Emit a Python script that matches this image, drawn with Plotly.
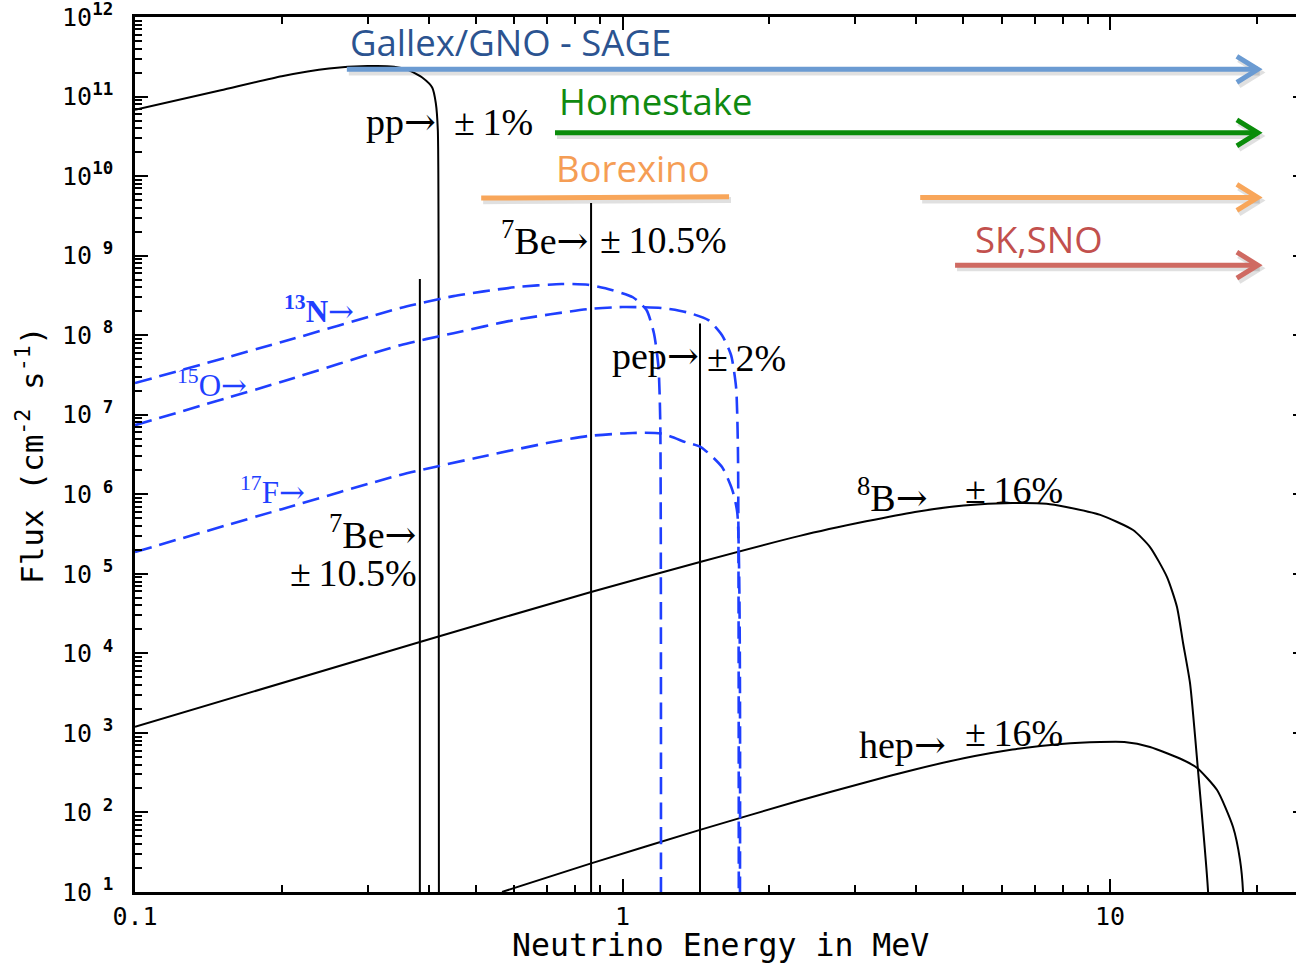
import numpy as np
import plotly.graph_objects as go

# ---------------- data ----------------
pp_E = [0.1, 0.15, 0.2, 0.25, 0.3, 0.34, 0.361, 0.39, 0.407, 0.414, 0.418, 0.4195, 0.4202]
pp_F = [6.8e10, 1.2e11, 1.8e11, 2.25e11, 2.42e11, 2.38e11, 2.2e11, 1.7e11, 1.3e11, 8.3e10, 3.8e10, 1e9, 1.0]

n13_E = [0.1, 0.2, 0.35, 0.45, 0.6, 0.75, 0.85, 0.95, 1.05, 1.12, 1.16, 1.185, 1.195, 1.199]
n13_F = [2.5e7, 8.2e7, 2.19e8, 3.1e8, 4.0e8, 4.4e8, 4.3e8, 3.7e8, 3.0e8, 2.07e8, 1.06e8, 4.0e7, 8.5e6, 1.0]

o15_E = [0.1, 0.2, 0.35, 0.45, 0.6, 0.85, 1.0, 1.2, 1.35, 1.5, 1.6, 1.67, 1.71, 1.725, 1.732]
o15_F = [7.4e6, 2.6e7, 7.5e7, 1.06e8, 1.55e8, 2.13e8, 2.26e8, 2.2e8, 1.95e8, 1.55e8, 1.0e8, 5.6e7, 2.2e7, 3.6e6, 1.0]

f17_E = [0.1, 0.2, 0.35, 0.5, 0.7, 0.85, 1.05, 1.2, 1.35, 1.45, 1.6, 1.68, 1.72, 1.74]
f17_F = [1.88e5, 6.5e5, 1.75e6, 2.86e6, 4.4e6, 5.4e6, 5.9e6, 5.8e6, 4.5e6, 3.9e6, 2.2e6, 1.13e6, 5.8e5, 1.0]

b8_E = [0.1, 0.384, 0.862, 1.442, 2.31, 3.16, 3.98, 5.01, 6.31, 7.41, 8.13, 9.55, 11.15, 12.08, 13.09,
        13.72, 14.12, 14.59, 15.15, 15.89, 16.0]
b8_F = [1.19e3, 1.39e4, 5.9e4, 1.41e5, 3.0e5, 4.57e5, 6.0e5, 7.2e5, 7.76e5, 7.6e5, 6.9e5, 5.5e5,
        3.55e5, 2.17e5, 9.1e4, 3.83e4, 1.35e4, 4.24e3, 342, 10, 1.0]

hep_E = [0.566, 0.862, 1.442, 2.31, 3.16, 3.98, 5.01, 6.31, 7.94, 9.55, 10.7, 12.08, 14.12, 15.09, 16.58,
         17.88, 18.48, 18.74, 18.8]
hep_F = [10, 22.9, 60.3, 141, 240, 347, 479, 617, 724, 767, 767, 665, 456, 362, 191, 65.6, 25.2, 10.3, 1.0]

# mono-energetic lines: 7Be (0.384), 7Be (0.862), pep (1.442)
line_E = [0.384, 0.862, 1.442]
line_F = [5.1e8, 4.6e9, 1.4e8]

# detector energy thresholds
det_names = ["Gallex/GNO - SAGE", "Homestake", "Borexino", "SK,SNO"]
det_Estart = [0.272, 0.727, 4.08, 4.81]
det_Eend = [20.1, 20.1, 20.1, 20.1]
det_level = [2.2e11, 3.5e10, 5.4e9, 7.6e8]
det_line_color = ["#6b9bd2", "#0a8c0a", "#f8a65a", "#cf6a62"]
det_text_color = ["#2b5390", "#108a10", "#f59d55", "#c2504d"]
borexino_seg_E = [0.513, 1.654]
borexino_seg_F = [5.3e9, 5.5e9]

xtick_vals = [0.1, 1, 10]
xtick_text = ["0.1", "1", "10"]
ytick_vals = [10.0 ** k for k in range(1, 13)]
ytick_text = ["10<sup> <b>%d</b></sup>" % k if k < 10 else "10<sup><b>%d</b></sup>" % k for k in range(1, 13)]

# ---------------- figure ----------------
W, H = 1296, 967
L, R, T, B = 135, 0, 17, 75
pw, ph = W - L - R, H - T - B

fig = go.Figure()

blue = "#1f3fff"
dash = "17px,8px"
spl = dict(shape="spline", smoothing=0.6)

fig.add_trace(go.Scatter(x=pp_E, y=pp_F, mode="lines", line=dict(color="black", width=2, **spl), showlegend=False))
fig.add_trace(go.Scatter(x=b8_E, y=b8_F, mode="lines", line=dict(color="black", width=2, **spl), showlegend=False))
fig.add_trace(go.Scatter(x=hep_E, y=hep_F, mode="lines", line=dict(color="black", width=2, **spl), showlegend=False))
for e, f in zip(line_E, line_F):
    fig.add_trace(go.Scatter(x=[e, e], y=[1.0, f], mode="lines", line=dict(color="black", width=2), showlegend=False))
for xs, ys in [(n13_E, n13_F), (o15_E, o15_F), (f17_E, f17_F)]:
    fig.add_trace(go.Scatter(x=xs, y=ys, mode="lines", line=dict(color=blue, width=2.6, dash=dash, **spl),
                             showlegend=False))

# detector arrows (with a faint shadow)
wing_dx = 10 ** (-0.043)
wing_dy = 10 ** (0.163)
sh_dy = 10 ** (-0.04)
sh_dx = 10 ** (0.004)


def arrow_xy(e0, e1, lvl):
    xs = [e0, e1, None, e1 * wing_dx, e1, e1 * wing_dx]
    ys = [lvl, lvl, None, lvl * wing_dy, lvl, lvl / wing_dy]
    return xs, ys


paths = [arrow_xy(det_Estart[i], det_Eend[i], det_level[i]) for i in range(len(det_names))]
paths.append((borexino_seg_E, borexino_seg_F))
for xs, ys in paths:
    fig.add_trace(go.Scatter(x=[None if v is None else v * sh_dx for v in xs],
                             y=[None if v is None else v * sh_dy for v in ys],
                             mode="lines", line=dict(color="rgba(0,0,0,0.12)", width=6),
                             showlegend=False, hoverinfo="skip"))

for i in range(len(det_names)):
    xs, ys = paths[i]
    fig.add_trace(go.Scatter(x=xs, y=ys, mode="lines", line=dict(color=det_line_color[i], width=5),
                             showlegend=False))
fig.add_trace(go.Scatter(x=borexino_seg_E, y=borexino_seg_F, mode="lines",
                         line=dict(color=det_line_color[2], width=5), showlegend=False))

# invisible trace to anchor the right-hand tick stubs
fig.add_trace(go.Scatter(x=[1], y=[1e5], yaxis="y2", mode="markers", marker=dict(opacity=0),
                         showlegend=False, hoverinfo="skip"))


def px(x):
    return (x - L) / pw


def py(y):
    return (T + ph - y) / ph


serif = "Liberation Serif"
ARR = '<span style="font-family:DejaVu Serif">\u2192</span>'
ann = []


def add(text, x, y, xanchor="left", size=38, color="black", family=serif):
    ann.append(dict(text=text, x=px(x), y=py(y), xref="paper", yref="paper", xanchor=xanchor,
                    yanchor="middle", showarrow=False, font=dict(family=family, size=size, color=color)))


add("pp" + ARR, 438, 122, "right")
add("\u00b1\u20091%", 452, 122)
add("<sup>7</sup>Be" + ARR, 590, 238, "right")
add("\u00b1\u200910.5%", 598, 240)
add("pep" + ARR, 701, 356, "right")
add("\u00b1\u20092%", 705, 358)
add("<sup>8</sup>B" + ARR, 855, 496)
add("\u00b1\u200916%", 963, 490)
add("hep" + ARR, 857, 745)
add("\u00b1\u200916%", 963, 733)
add("<sup>7</sup>Be" + ARR, 418, 533, "right")
add("\u00b1\u200910.5%", 419, 573, "right")
add("<b><sup>13</sup>N</b>" + ARR, 282, 309, size=31, color=blue)
add("<sup>15</sup>O" + ARR, 175, 383, size=31, color=blue)
add("<sup>17</sup>F" + ARR, 238, 490, size=31, color=blue)

sans = "Open Sans"
add(det_names[0], 348, 42, size=36.5, color=det_text_color[0], family=sans)
add(det_names[1], 557, 101, size=36.5, color=det_text_color[1], family=sans)
add(det_names[2], 554, 168, size=36.5, color=det_text_color[2], family=sans)
add(det_names[3], 973, 239, size=36.5, color=det_text_color[3], family=sans)

mono = "DejaVu Sans Mono"
ann.append(dict(text="Neutrino Energy in MeV", x=px(720), y=py(945), xref="paper", yref="paper",
                xanchor="center", yanchor="middle", showarrow=False,
                font=dict(family=mono, size=31.5, color="black")))
ann.append(dict(text="Flux (cm<sup>-2</sup> s<sup>-1</sup>)", x=px(30), y=py(455), xref="paper", yref="paper",
                xanchor="center", yanchor="middle", showarrow=False, textangle=-90,
                font=dict(family=mono, size=31, color="black")))

x_minor = [m * 10.0 ** k for k in (-1, 0, 1) for m in range(2, 10) if m * 10.0 ** k < 24]
y_minor = [m * 10.0 ** k for k in range(1, 12) for m in range(2, 10)]
yr = [0.9995, 12.0005]

fig.update_xaxes(type="log", range=[-1, 1.3815], showline=True, linecolor="black", linewidth=2.5,
                 mirror="ticks", ticks="inside", ticklen=13, tickwidth=1.6, tickcolor="black",
                 tickmode="array", tickvals=xtick_vals, ticktext=xtick_text, automargin=False,
                 tickfont=dict(family=mono, size=25, color="black"), showgrid=False, zeroline=False,
                 ticklabelstandoff=0, ticklabeloverflow="allow",
                 minor=dict(tickmode="array", tickvals=x_minor, ticks="inside", ticklen=7, tickwidth=1.5,
                            tickcolor="black", showgrid=False))
fig.update_layout(
    yaxis=dict(type="log", range=yr, showline=True, linecolor="black", linewidth=2.5,
               mirror=False, ticks="inside", ticklen=13, tickwidth=1.6, tickcolor="black",
               tickmode="array", tickvals=ytick_vals, ticktext=ytick_text, automargin=False,
               tickfont=dict(family=mono, size=25, color="black"), showgrid=False, zeroline=False,
               ticklabelstandoff=14, ticklabeloverflow="allow",
               minor=dict(tickmode="array", tickvals=y_minor, ticks="inside", ticklen=7, tickwidth=1.5,
                          tickcolor="black", showgrid=False)),
    yaxis2=dict(type="log", range=yr, overlaying="y", side="right", showline=False, ticks="inside",
                ticklen=3, tickwidth=1.6, tickcolor="black", tickmode="array", tickvals=ytick_vals,
                showticklabels=False, showgrid=False, zeroline=False, automargin=False),
)

fig.update_layout(width=W, height=H, margin=dict(l=L, r=R, t=T, b=B, pad=0, autoexpand=False),
                  paper_bgcolor="white", plot_bgcolor="white", annotations=ann, showlegend=False)

fig.write_html("out.html", config={"displayModeBar": False},
               post_script="document.body.style.margin='0';document.body.style.overflow='hidden';")
